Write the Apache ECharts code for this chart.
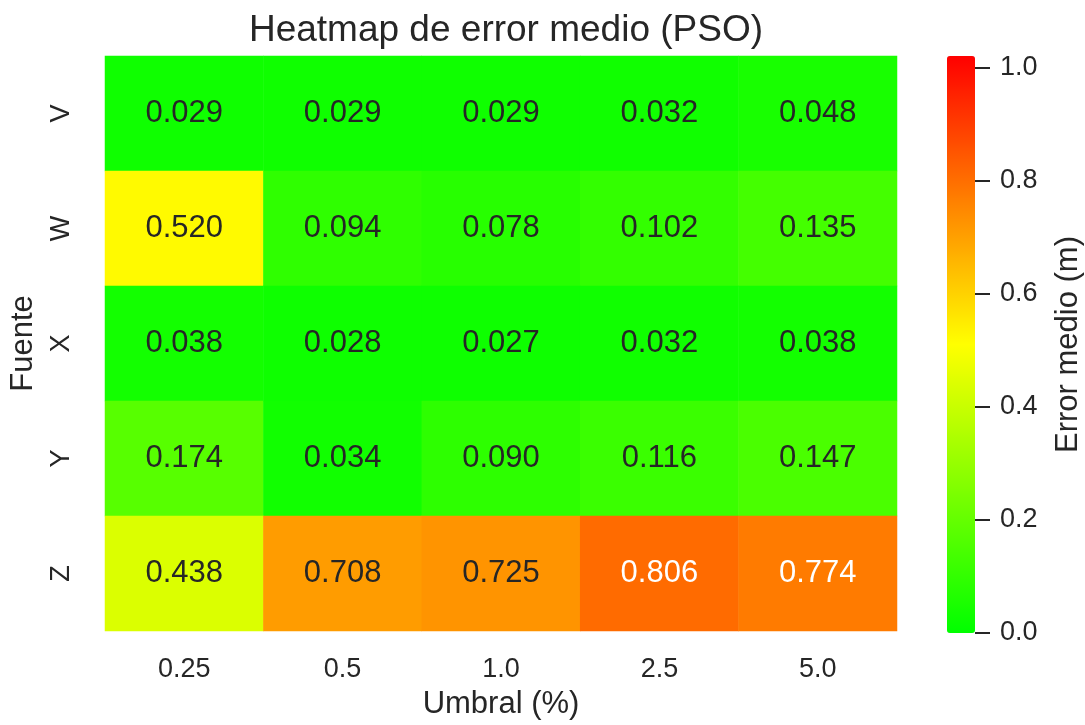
<!DOCTYPE html>
<html>
<head>
<meta charset="utf-8">
<script src="https://cdn.jsdelivr.net/npm/echarts@6/dist/echarts.min.js"></script>
<style>html,body{margin:0;padding:0;background:#fff}#c{width:1085px;height:725px}</style>
</head>
<body>
<div id="c"></div>
<script>
const umbrales = ['0.25', '0.5', '1.0', '2.5', '5.0'];
const fuentes = ['V', 'W', 'X', 'Y', 'Z'];
const rowV = [0.029, 0.029, 0.029, 0.032, 0.048];
const rowW = [0.520, 0.094, 0.078, 0.102, 0.135];
const rowX = [0.038, 0.028, 0.027, 0.032, 0.038];
const rowY = [0.174, 0.034, 0.090, 0.116, 0.147];
const rowZ = [0.438, 0.708, 0.725, 0.806, 0.774];
const colorbarTicks = [0.0, 0.2, 0.4, 0.6, 0.8, 1.0];

const rows = [rowV, rowW, rowX, rowY, rowZ];
const VMAX = 1.02;
const FONT = "'Liberation Sans', Arial, sans-serif";
const DARK = '#262626';

function cellRGB(v) {
  const t = Math.max(0, Math.min(1, v / VMAX));
  if (t < 0.5) return [255 * 2 * t, 255, 0];
  return [255, 255 * (2 - 2 * t), 0];
}
function textColor(v) {
  const lin = c => { c /= 255; return c <= 0.03928 ? c / 12.92 : Math.pow((c + 0.055) / 1.055, 2.4); };
  const [r, g, b] = cellRGB(v);
  const lum = 0.2126 * lin(r) + 0.7152 * lin(g) + 0.0722 * lin(b);
  return lum > 0.408 ? DARK : '#ffffff';
}

const data = [];
rows.forEach((row, yi) => row.forEach((v, xi) => {
  data.push({ value: [xi, yi, v], label: { color: textColor(v) } });
}));

const chart = echarts.init(document.getElementById('c'), null, { renderer: 'canvas' });
chart.setOption({
  backgroundColor: '#ffffff',
  animation: false,
  textStyle: { fontFamily: FONT },
  title: {
    text: 'Heatmap de error medio (PSO)',
    left: 501, textAlign: 'center', top: 7,
    textStyle: { fontFamily: FONT, fontSize: 37, fontWeight: 'normal', color: DARK }
  },
  grid: [
    { left: 105, top: 56, width: 792, height: 577 },
    { left: 947, top: 56, width: 28, height: 577 }
  ],
  xAxis: [
    {
      type: 'category', gridIndex: 0, data: umbrales,
      axisLine: { show: false }, axisTick: { show: false }, splitLine: { show: false },
      axisLabel: { fontSize: 27, color: DARK, margin: 25, fontFamily: FONT },
      name: 'Umbral (%)', nameLocation: 'middle', nameGap: 58,
      nameTextStyle: { fontSize: 31, color: DARK, fontFamily: FONT }
    },
    { type: 'category', gridIndex: 1, data: [''], show: false }
  ],
  yAxis: [
    {
      type: 'category', gridIndex: 0, data: fuentes, inverse: true,
      axisLine: { show: false }, axisTick: { show: false }, splitLine: { show: false },
      axisLabel: { fontSize: 27, color: DARK, margin: 30, rotate: 90, fontFamily: FONT },
      name: 'Fuente', nameLocation: 'middle', nameGap: 66, nameRotate: 90,
      nameTextStyle: { fontSize: 31, color: DARK, fontFamily: FONT }
    },
    {
      type: 'value', gridIndex: 1, position: 'right', min: 0, max: VMAX, interval: 0.2,
      axisLine: { show: false }, splitLine: { show: false },
      axisTick: { show: true, length: 15, lineStyle: { color: DARK, width: 2 } },
      axisLabel: {
        fontSize: 27, color: DARK, margin: 25, fontFamily: FONT, showMaxLabel: false,
        formatter: v => (colorbarTicks.some(t => Math.abs(t - v) < 1e-6) ? v.toFixed(1) : '')
      },
      name: 'Error medio (m)', nameLocation: 'middle', nameGap: 78, nameRotate: 90,
      nameTextStyle: { fontSize: 31, color: DARK, fontFamily: FONT }
    }
  ],
  visualMap: {
    type: 'continuous', seriesIndex: 0, min: 0, max: VMAX,
    calculable: false, hoverLink: false, realtime: false,
    orient: 'vertical', left: 947, top: 56, padding: 0,
    itemWidth: 28, itemHeight: 577, text: ['', ''], showLabel: false,
    inRange: { color: ['#00ff00', '#ffff00', '#ff0000'] }
  },
  series: [{
    type: 'heatmap', xAxisIndex: 0, yAxisIndex: 0, data: data,
    label: {
      show: true, fontSize: 31, fontFamily: FONT,
      formatter: p => p.value[2].toFixed(3)
    },
    itemStyle: { borderWidth: 0 },
    emphasis: { disabled: true }
  }]
});
</script>
</body>
</html>
